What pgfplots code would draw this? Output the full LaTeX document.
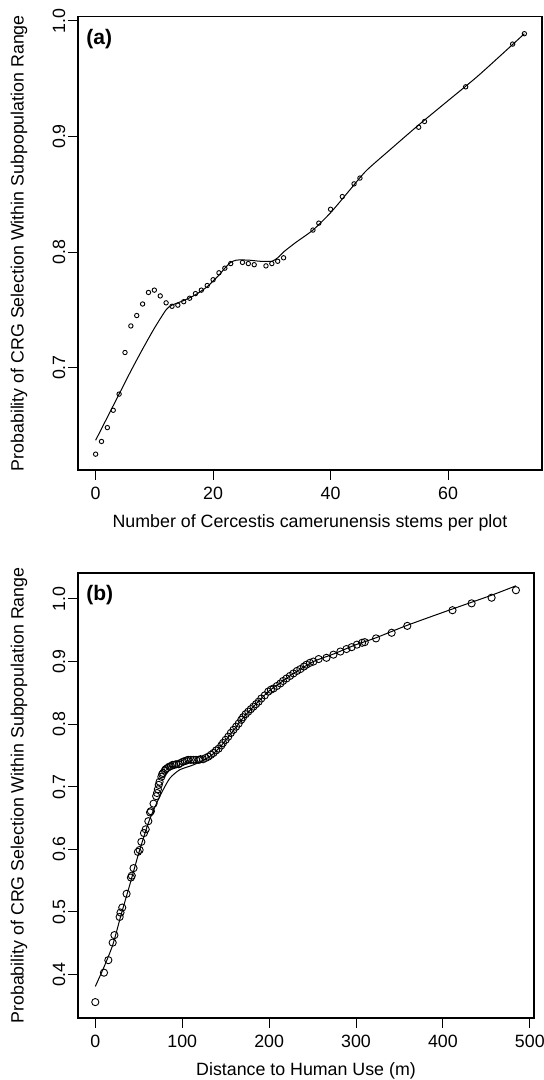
\documentclass[border=0pt]{standalone}
\usepackage{fontspec}
\setmainfont{Liberation Sans}
\usepackage{pgfplots}
\pgfplotsset{compat=1.18}
\begin{document}
\fontsize{8.9}{10.5}\selectfont
\begin{tikzpicture}[font=\fontsize{8.9}{10.5}\selectfont]
\useasboundingbox (0,0) rectangle (271.5pt,540pt);
\pgfplotsset{
  rstyle/.style={
    scale only axis,
    axis line style={line width=0.6pt},
    tick style={line width=0.5pt,black},
    tick align=outside,
    major tick length=5pt,
    xtick pos=lower, ytick pos=left,
    minor tick num=0,
    every tick label/.append style={font=\fontsize{8.9}{10.5}\selectfont, inner sep=0pt},
    xticklabel style={anchor=north},
    xticklabel shift=3.2pt,
    yticklabel style={rotate=90, anchor=south},
    yticklabel shift=1.2pt,
    every axis label/.append style={font=\fontsize{8.9}{10.5}\selectfont},
    every axis y label/.style={at={(axis description cs:0,0.5)}, xshift=-29.5pt, rotate=90, anchor=center, font=\fontsize{8.9}{10.5}\selectfont},
    every axis x label/.style={at={(axis description cs:0.5,0)}, anchor=center, font=\fontsize{8.9}{10.5}\selectfont},
    ylabel={Probability of CRG Selection Within Subpopulation Range},
    clip=true,
  }
}
% ---------------- panel (a)
\begin{axis}[rstyle,
  at={(39pt,305pt)}, anchor=south west,
  width=232pt, height=226.75pt,
  xmin=-3.0, xmax=76.0, ymin=0.6113, ymax=1.0039,
  xtick={0,20,40,60}, xticklabels={0,20,40,60},
  ytick={0.7,0.8,0.9,1.0}, yticklabels={0.7,0.8,0.9,1.0},
  xlabel={Number of Cercestis camerunensis stems per plot},
  x label style={yshift=-26.5pt},
]
\addplot[only marks, mark=o, mark size=1.1pt, mark options={line width=0.45pt}] coordinates {
(0,0.625) (1,0.636) (2,0.648) (3,0.663) (4,0.677) (5,0.713) (6,0.736) (7,0.745)
(8,0.755) (9,0.765) (10,0.767) (11,0.762) (12,0.756) (13,0.753) (14,0.754) (15,0.757)
(16,0.760) (17,0.764) (18,0.767) (19,0.771) (20,0.776) (21,0.782) (22,0.786) (23,0.790)
(25,0.791) (26,0.790) (27,0.789) (29,0.788) (30,0.790) (31,0.792) (32,0.795)
(37,0.819) (38,0.825) (40,0.837) (42,0.848) (44,0.859) (45,0.864)
(55,0.908) (56,0.913) (63,0.943) (71,0.980) (73,0.989)
};
\addplot[line width=0.5pt, smooth, tension=0.4] coordinates {
(0,0.637) (2,0.657) (4,0.677) (6,0.697) (8,0.716) (10,0.734) (12,0.750) (13,0.754)
(15,0.758) (17,0.763) (19,0.770) (21,0.780) (22,0.786) (23,0.791) (24,0.793)
(26,0.793) (28,0.792) (30,0.792) (31,0.795) (32,0.800) (34,0.808) (37,0.819)
(40,0.834) (43,0.852) (46,0.870) (50,0.888) (55,0.910) (60,0.931) (65,0.952)
(70,0.975) (73,0.989)
};
\node[font=\bfseries\fontsize{10.5}{12}\selectfont, anchor=west, inner sep=0pt] at (axis description cs:0.0172,0.951) {(a)};
\end{axis}
% ---------------- panel (b)
\begin{axis}[rstyle,
  at={(39pt,31pt)}, anchor=south west,
  width=228pt, height=222.5pt,
  xmin=-19.9, xmax=504.8, ymin=0.3306, ymax=1.0415,
  xtick={0,100,200,300,400,500}, xticklabels={0,100,200,300,400,500},
  ytick={0.4,0.5,0.6,0.7,0.8,0.9,1.0}, yticklabels={0.4,0.5,0.6,0.7,0.8,0.9,1.0},
  xlabel={Distance to Human Use (m)},
  x label style={yshift=-26.5pt},
]
\addplot[only marks, mark=o, mark size=1.8pt, mark options={line width=0.45pt}] coordinates {
(0,0.356) (10,0.403) (15,0.423) (20,0.451) (22,0.463) (28,0.492) (29,0.499) (31,0.507)
(36,0.529) (41,0.555) (42,0.558) (44,0.570) (49,0.596) (51,0.599) (53,0.612) (56,0.626)
(58,0.632) (61,0.645) (63,0.659) (64,0.661) (67,0.673) (70,0.685) (71,0.690) (72,0.696)
(73,0.703) (74,0.708) (76,0.716) (77,0.720) (78,0.722) (80,0.726) (81,0.728) (83,0.730)
(85,0.732) (87,0.733) (89,0.735) (91,0.735) (93,0.736) (96,0.736) (98,0.738) (101,0.740)
(103,0.741) (105,0.742) (107,0.743) (110,0.743) (113,0.743) (116,0.743) (119,0.743)
(121,0.744) (124,0.744) (127,0.746) (130,0.748) (133,0.751) (136,0.754) (139,0.758)
(142,0.761) (145,0.766) (147,0.770) (150,0.775) (153,0.780) (156,0.786) (159,0.791)
(162,0.796) (165,0.801) (168,0.807) (170,0.811) (173,0.816) (176,0.820) (179,0.824)
(182,0.828) (185,0.832) (188,0.836) (191,0.841) (195,0.846) (199,0.852) (202,0.855)
(205,0.857) (209,0.861) (213,0.865) (216,0.869) (220,0.873) (224,0.877) (228,0.881)
(232,0.885) (236,0.888) (240,0.892) (243,0.895) (247,0.898) (251,0.900) (257,0.904)
(266,0.906) (274,0.911) (282,0.916) (289,0.920) (295,0.923) (301,0.927) (307,0.930)
(310,0.931) (323,0.937) (341,0.946) (359,0.957) (411,0.982) (433,0.993) (456,1.002)
(484,1.014)
};
\addplot[line width=0.5pt, smooth, tension=0.4] coordinates {
(0,0.381) (10,0.412) (20,0.447) (30,0.497) (40,0.545) (50,0.594) (60,0.638) (65,0.656)
(70,0.672) (78,0.695) (86,0.714) (97,0.727) (113,0.735) (128,0.745) (136,0.753)
(147,0.769) (159,0.790) (170,0.810) (182,0.828) (199,0.852) (213,0.866) (228,0.881)
(251,0.900) (274,0.912) (300,0.927) (323,0.938) (359,0.958) (411,0.984) (456,1.006)
(484,1.021)
};
\node[font=\bfseries\fontsize{10.5}{12}\selectfont, anchor=west, inner sep=0pt] at (axis description cs:0.0175,0.95) {(b)};
\end{axis}
\end{tikzpicture}
\end{document}
